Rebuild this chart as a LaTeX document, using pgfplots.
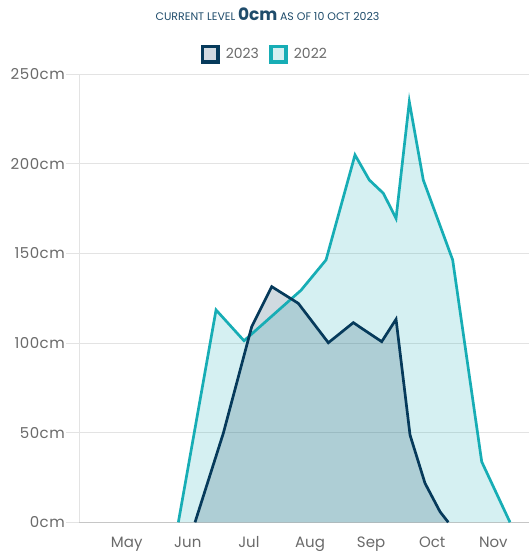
\documentclass[border=0pt]{standalone}
\usepackage{pgfplots}
\usepackage{pgfplotstable}
\pgfplotsset{compat=1.18}
\usepackage{fontspec}
\setmainfont{Poppins}
\newfontfamily\tickfont[LetterSpace=3.5]{Poppins}
\definecolor{navy}{HTML}{063A5B}
\definecolor{teal22}{HTML}{17ADB5}
\definecolor{txtgray}{HTML}{6A6A6A}
\definecolor{titlenavy}{HTML}{1F4C6B}
\definecolor{gridgray}{HTML}{E3E3E3}
\definecolor{axisgray}{HTML}{C6C6C6}
\definecolor{navyfillw}{HTML}{D2DAE1}
\definecolor{tealfillw}{HTML}{D6EFF1}

% x: months (May=0 ... Nov=6), y: level in cm
\pgfplotstableread{
x y
0.845 0
1.462 118.5
1.920 101.3
2.853 129.5
3.262 146.4
3.736 205.0
3.971 191.0
4.200 183.6
4.408 169.6
4.625 234.7
4.854 191.0
5.335 146.4
5.810 33.8
6.273 0
}\dataTwentyTwo

\pgfplotstableread{
x y
1.118 0
1.581 49.7
2.046 109.2
2.373 131.5
2.808 122.2
3.300 100.2
3.709 111.4
4.173 100.8
4.408 113.3
4.637 48.7
4.882 21.8
5.128 5.9
5.263 0
}\dataTwentyThree

\begin{document}
\begin{tikzpicture}[x=1pt,y=1pt]
\useasboundingbox (0,0) rectangle (529,554);
\node[text=titlenavy, anchor=base] at (267.5,533) {{\fontsize{11}{12}\selectfont CURRENT LEVEL} {\fontsize{17}{18}\selectfont\bfseries 0cm} {\fontsize{11}{12}\selectfont AS OF 10 OCT 2023}};
\begin{axis}[
  at={(79pt,31.7pt)}, anchor=south west,
  scale only axis, width=450pt, height=448pt,
  xmin=-0.781, xmax=6.584, ymin=0, ymax=250,
  axis x line*=bottom, axis y line*=left,
  axis line style={-},
  x axis line style={draw=axisgray, line width=1pt},
  y axis line style={draw=gridgray, line width=1pt},
  ymajorgrids, grid style={draw=gridgray, line width=0.9pt},
  tick align=outside,
  ytick={0,50,100,150,200,250},
  yticklabels={0cm,50cm,100cm,150cm,200cm,250cm},
  ytick style={draw=gridgray, line width=0.9pt},
  major tick length=13pt,
  xtick={0,1,2,3,4,5,6},
  xticklabels={May,Jun,Jul,Aug,Sep,Oct,Nov},
  xtick style={draw=none},
  yticklabel style={font=\tickfont\fontsize{15}{16}\selectfont, text=txtgray, inner sep=1pt},
  xticklabel style={font=\fontsize{15}{16}\selectfont, text=txtgray, yshift=2pt},
  legend style={at={(0.413,1.045)}, anchor=center, draw=none, fill=none,
    font=\fontsize{14}{15}\selectfont, text=txtgray,
    /tikz/every even column/.append style={column sep=8pt}},
  legend columns=2,
  clip=false,
]
\addlegendimage{legend image code/.code={\draw[draw=navy,fill=navyfillw,line width=3.6pt] (0pt,-7.7pt) rectangle (15.4pt,7.7pt); \path (21pt,0pt);}}
\addlegendentry{2023}
\addlegendimage{legend image code/.code={\draw[draw=teal22,fill=tealfillw,line width=3.6pt] (0pt,-7.7pt) rectangle (15.4pt,7.7pt); \path (21pt,0pt);}}
\addlegendentry{2022}

\addplot[draw=none, fill=teal22, fill opacity=0.18, forget plot] table[x=x,y=y] {\dataTwentyTwo} \closedcycle;
\addplot[draw=none, fill=navy, fill opacity=0.19, forget plot] table[x=x,y=y] {\dataTwentyThree} \closedcycle;
\addplot[draw=teal22, line width=2.7pt, forget plot] table[x=x,y=y] {\dataTwentyTwo};
\addplot[draw=navy, line width=2.7pt, forget plot] table[x=x,y=y] {\dataTwentyThree};
\end{axis}
\end{tikzpicture}
\end{document}
